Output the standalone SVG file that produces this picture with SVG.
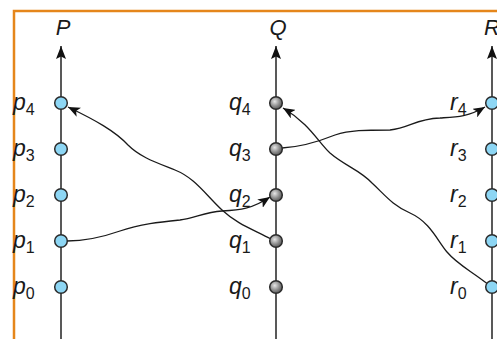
<svg xmlns="http://www.w3.org/2000/svg" width="497" height="339" viewBox="0 0 497 339">
  <style>
    .frame { fill: none; stroke: #e5861b; stroke-width: 2.5; }
    .axis { fill: none; stroke: #222; stroke-width: 1.5; }
    .msg { fill: none; stroke: #1a1a1a; stroke-width: 1.3; }
    .ev-blue { fill: #8dd6f4; stroke: #2b2b2b; stroke-width: 1.5; }
    .ev-gray { fill: url(#grayBall); stroke: #2b2b2b; stroke-width: 1.5; }
    .lbl { font-family: "Liberation Sans", Arial, sans-serif; font-style: italic; font-size: 23px; fill: #1a1a1a; }
    .title { font-family: "Liberation Sans", Arial, sans-serif; font-style: italic; font-size: 22px; fill: #1a1a1a; text-anchor: middle; }
    .sub { font-size: 16px; font-style: normal; }
  </style>
  <defs>
    <radialGradient id="grayBall" cx="40%" cy="38%" r="65%">
      <stop offset="0" stop-color="#e6e6e6"/>
      <stop offset="0.6" stop-color="#8a8a8a"/>
      <stop offset="1" stop-color="#555"/>
    </radialGradient>
    <marker id="axisHead" viewBox="0 0 13 10" refX="13" refY="5" markerWidth="13" markerHeight="10" markerUnits="userSpaceOnUse" orient="auto">
      <path d="M0,0 L13,5 L0,10 L2.5,5 z" fill="#111"/>
    </marker>
    <marker id="msgHead" viewBox="0 0 12 10" refX="12" refY="5" markerWidth="12" markerHeight="10" markerUnits="userSpaceOnUse" orient="auto">
      <path d="M0,0 L12,5 L0,10 L3,5 z" fill="#111"/>
    </marker>
  </defs>

  <rect class="frame" x="14" y="11" width="500" height="345"/>

  <!-- process timelines -->
  <g id="timelines">
    <line class="axis" x1="61" y1="339" x2="61" y2="46" marker-end="url(#axisHead)"/>
    <line class="axis" x1="276" y1="339" x2="276" y2="46" marker-end="url(#axisHead)"/>
    <line class="axis" x1="492" y1="339" x2="492" y2="46" marker-end="url(#axisHead)"/>
    <text class="title" x="63" y="35">P</text>
    <text class="title" x="278" y="35">Q</text>
    <text class="title" x="492" y="35">R</text>
  </g>

  <!-- messages between processes -->
  <g id="connectors">
    <path class="msg" d="M271,239 C252,229 237,224 222,210 C205,194 195,178 175,170 C155,162 140,157 128,145 C115,131 95,120 68,107" marker-end="url(#msgHead)"/>
    <path class="msg" d="M67,241 C85,241 100,238 120,231 C140,224 160,222 180,220 C195,218 205,212 222,211 C240,210 252,209 270,197" marker-end="url(#msgHead)"/>
    <path class="msg" d="M282,148 C300,147 315,143 335,135 C350,130 365,130 390,130 C410,128 415,119 440,118 C455,117 468,117 485,107" marker-end="url(#msgHead)"/>
    <path class="msg" d="M489,285 C470,270 458,265 447,252 C437,240 430,222 410,213 C392,205 385,195 372,183 C360,170 345,166 330,153 C318,142 310,124 283,108" marker-end="url(#msgHead)"/>
  </g>

  <!-- events of P -->
  <g id="p4"><circle class="ev-blue" cx="61" cy="103" r="6.3"/><text class="lbl" x="13" y="110">p<tspan class="sub" dy="5">4</tspan></text></g>
  <g id="p3"><circle class="ev-blue" cx="61" cy="149" r="6.3"/><text class="lbl" x="13" y="156">p<tspan class="sub" dy="5">3</tspan></text></g>
  <g id="p2"><circle class="ev-blue" cx="61" cy="195" r="6.3"/><text class="lbl" x="13" y="202">p<tspan class="sub" dy="5">2</tspan></text></g>
  <g id="p1"><circle class="ev-blue" cx="61" cy="241" r="6.3"/><text class="lbl" x="13" y="248">p<tspan class="sub" dy="5">1</tspan></text></g>
  <g id="p0"><circle class="ev-blue" cx="61" cy="287" r="6.3"/><text class="lbl" x="13" y="294">p<tspan class="sub" dy="5">0</tspan></text></g>

  <!-- events of Q -->
  <g id="q4"><circle class="ev-gray" cx="276" cy="103" r="6.3"/><text class="lbl" x="229" y="110">q<tspan class="sub" dy="5">4</tspan></text></g>
  <g id="q3"><circle class="ev-gray" cx="276" cy="149" r="6.3"/><text class="lbl" x="229" y="156">q<tspan class="sub" dy="5">3</tspan></text></g>
  <g id="q2"><circle class="ev-gray" cx="276" cy="195" r="6.3"/><text class="lbl" x="229" y="202">q<tspan class="sub" dy="5">2</tspan></text></g>
  <g id="q1"><circle class="ev-gray" cx="276" cy="241" r="6.3"/><text class="lbl" x="229" y="248">q<tspan class="sub" dy="5">1</tspan></text></g>
  <g id="q0"><circle class="ev-gray" cx="276" cy="287" r="6.3"/><text class="lbl" x="229" y="294">q<tspan class="sub" dy="5">0</tspan></text></g>

  <!-- events of R -->
  <g id="r4"><circle class="ev-blue" cx="492" cy="103" r="6.3"/><text class="lbl" x="450" y="110">r<tspan class="sub" dy="5">4</tspan></text></g>
  <g id="r3"><circle class="ev-blue" cx="492" cy="149" r="6.3"/><text class="lbl" x="450" y="156">r<tspan class="sub" dy="5">3</tspan></text></g>
  <g id="r2"><circle class="ev-blue" cx="492" cy="195" r="6.3"/><text class="lbl" x="450" y="202">r<tspan class="sub" dy="5">2</tspan></text></g>
  <g id="r1"><circle class="ev-blue" cx="492" cy="241" r="6.3"/><text class="lbl" x="450" y="248">r<tspan class="sub" dy="5">1</tspan></text></g>
  <g id="r0"><circle class="ev-blue" cx="492" cy="287" r="6.3"/><text class="lbl" x="450" y="294">r<tspan class="sub" dy="5">0</tspan></text></g>
</svg>
